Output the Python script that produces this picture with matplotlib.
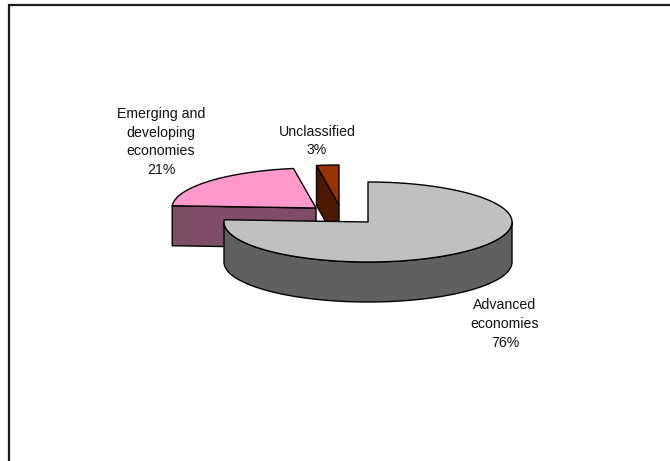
import numpy as np
import matplotlib
matplotlib.use("Agg")
import matplotlib.pyplot as plt
from matplotlib.patches import Polygon

plt.rcParams['font.family'] = ['Liberation Sans', 'DejaVu Sans']

categories = ['Advanced\neconomies', 'Emerging and\ndeveloping\neconomies', 'Unclassified']
shares = [75.9, 21.6, 2.5]
share_labels = ['76%', '21%', '3%']

top_colors = ['#C0C0C0', '#FF99CC', '#993300']
side_colors = ['#606060', '#804D66', '#4D1A00']
centers = [(368, 222), (316, 208), (339, 205)]
label_pos = [(505, 324), (161, 142), (317, 141)]

RX, RY, DEPTH = 144, 40, 40


def ell(cx, cy, deg):
    # angles run clockwise from 12 o'clock
    rad = np.radians(deg)
    return np.column_stack([cx + RX * np.sin(rad), cy - RY * np.cos(rad)])


def draw_slice(ax, cx, cy, a0, a1, top, side, zorder):
    arc = ell(cx, cy, np.linspace(a0, a1, 200))
    down = np.array([0, DEPTH])
    line = dict(edgecolor='black', linewidth=1.0, joinstyle='round')

    # outer wall, only the part of the rim facing the viewer
    front = np.linspace(max(a0, 90), min(a1, 270), 200)
    if front[-1] > front[0]:
        rim = ell(cx, cy, front)
        ax.add_patch(Polygon(np.vstack([rim, rim[::-1] + down]), facecolor=side, zorder=zorder, **line))

    # the cut wall only shows when the slice starts on the left half
    hub = np.array([cx, cy])
    if a0 > 180:
        p = ell(cx, cy, np.array([a0]))[0]
        ax.add_patch(Polygon([hub, p, p + down, hub + down], facecolor=side, zorder=zorder, **line))

    ax.add_patch(Polygon(np.vstack([hub, arc]), facecolor=top, zorder=zorder + 1, **line))


fig = plt.figure(figsize=(6.7, 4.61), dpi=100)
ax = fig.add_axes([0, 0, 1, 1])
ax.set_xlim(0, 670)
ax.set_ylim(461, 0)
ax.axis('off')

# chart area border, cut off at the right and bottom of the image
ax.plot([8.5, 8.5, 670], [461, 5.5, 5.5], color='#1a1a1a', linewidth=1.6, solid_joinstyle='miter')

starts = np.cumsum([0] + shares[:-1]) * 3.6
ends = np.cumsum(shares) * 3.6
order = [1, 2, 0]
for z, i in enumerate(order):
    cx, cy = centers[i]
    draw_slice(ax, cx, cy, starts[i], ends[i], top_colors[i], side_colors[i], 2 + z * 2)

for name, pct, (x, y) in zip(categories, share_labels, label_pos):
    ax.text(x, y, name + '\n' + pct, ha='center', va='center', fontsize=10.2,
            linespacing=1.45, color='#111111', zorder=10)

fig.savefig('out.png', dpi=100)
